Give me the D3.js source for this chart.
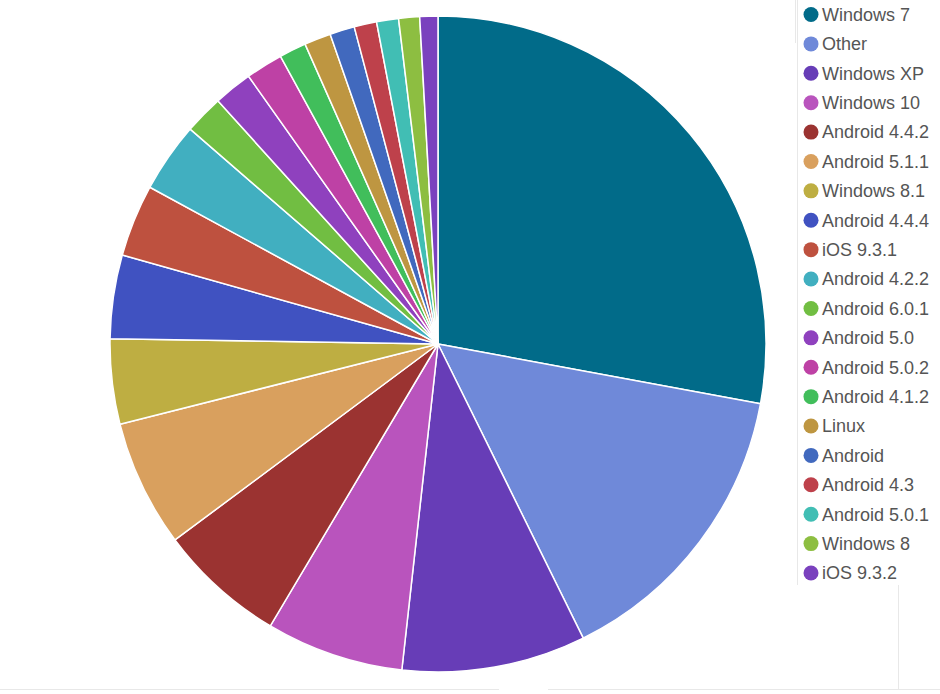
<!DOCTYPE html>
<html>
<head>
<meta charset="utf-8">
<script src="https://cdn.jsdelivr.net/npm/d3@7"></script>
<style>
  html, body { margin: 0; padding: 0; background: #fff; }
  svg { display: block; }
</style>
</head>
<body>
<svg id="chart" width="940" height="694"></svg>
<script>
const categories = ["Windows 7","Other","Windows XP","Windows 10","Android 4.4.2","Android 5.1.1","Windows 8.1","Android 4.4.4","iOS 9.3.1","Android 4.2.2","Android 6.0.1","Android 5.0","Android 5.0.2","Android 4.1.2","Linux","Android","Android 4.3","Android 5.0.1","Windows 8","iOS 9.3.2"];
const values = [27.92,14.78,9.06,6.78,6.27,6.26,4.19,4.11,3.56,3.44,1.92,1.91,1.83,1.33,1.31,1.22,1.11,1.08,1.03,0.89];
const colors = ["#016b89","#6f89d9","#673db7","#b954bd","#9b3331","#d9a05e","#beae42","#4052c1","#be513f","#41afc0","#71be42","#8f41be","#be41a5","#41be5b","#be9641","#4169be","#be414b","#41beb4","#8dbe41","#7a41be"];

const data = categories.map((c, i) => ({ name: c, value: values[i] }));
const svg = d3.select("#chart");

// light panel borders
const borders = svg.append("g").attr("stroke", "#e8e8e8").attr("stroke-width", 1);
borders.append("line").attr("x1", 797.5).attr("x2", 797.5).attr("y1", 0).attr("y2", 585);
borders.append("line").attr("x1", 795.5).attr("x2", 795.5).attr("y1", 0).attr("y2", 43);
borders.append("line").attr("x1", 898.5).attr("x2", 898.5).attr("y1", 585).attr("y2", 689);
borders.append("line").attr("x1", 0).attr("x2", 499).attr("y1", 689.5).attr("y2", 689.5);
borders.append("line").attr("x1", 548).attr("x2", 940).attr("y1", 689.5).attr("y2", 689.5);

const color = d3.scaleOrdinal().domain(categories).range(colors);
const pie = d3.pie().sort(null).value(d => d.value);
const arc = d3.arc().innerRadius(0).outerRadius(328);

svg.append("g")
  .attr("transform", "translate(438,344)")
  .selectAll("path")
  .data(pie(data))
  .join("path")
  .attr("d", arc)
  .attr("fill", d => color(d.data.name))
  .attr("stroke", "#fff")
  .attr("stroke-width", 1.5)
  .attr("stroke-linejoin", "round");

const ly = d3.scalePoint().domain(categories).range([14.5, 573]);
const legend = svg.append("g")
  .selectAll("g")
  .data(categories)
  .join("g")
  .attr("transform", d => `translate(0,${ly(d)})`);
legend.append("circle")
  .attr("cx", 811)
  .attr("cy", 0)
  .attr("r", 7.5)
  .attr("fill", d => color(d));
legend.append("text")
  .attr("x", 822)
  .attr("y", 0)
  .attr("dy", "0.35em")
  .attr("font-family", "Liberation Sans, Arial, sans-serif")
  .attr("font-size", 18)
  .attr("fill", "#555")
  .text(d => d);
</script>
</body>
</html>
